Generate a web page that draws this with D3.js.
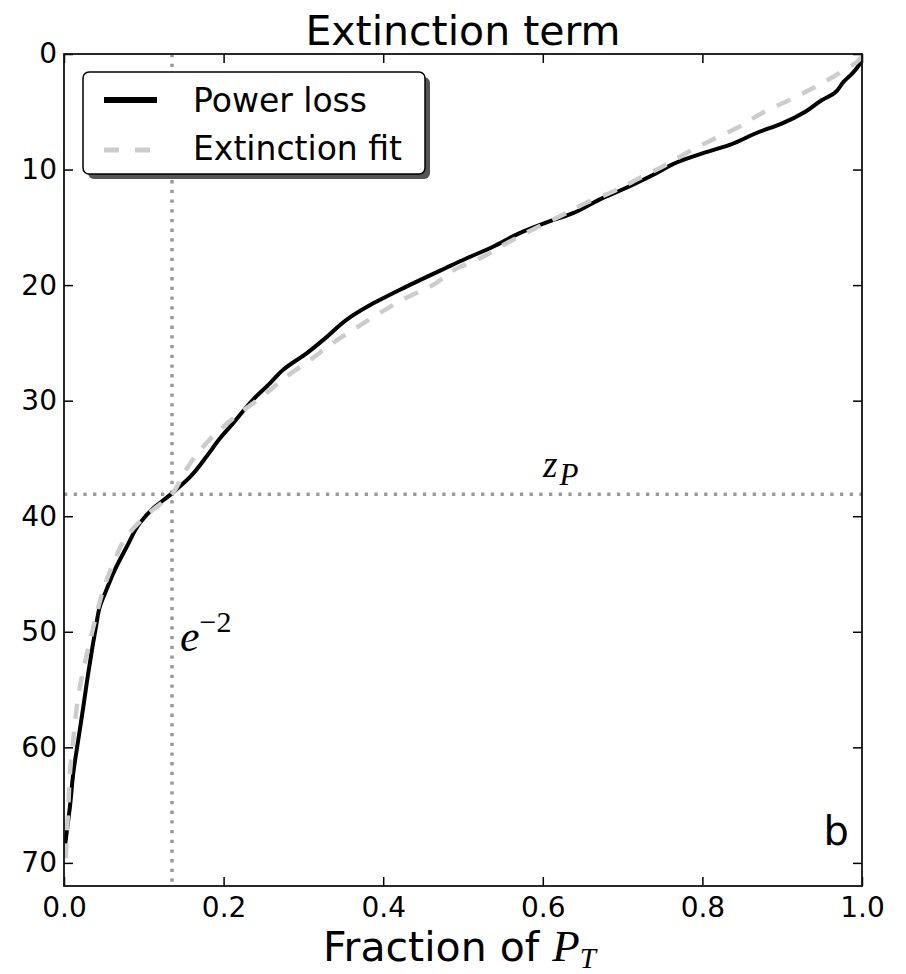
<!DOCTYPE html>
<html>
<head>
<meta charset="utf-8">
<script src="https://cdn.jsdelivr.net/npm/d3@7/dist/d3.min.js"></script>
<style>
  body { margin: 0; background: #fff; }
  svg { display: block; }
</style>
</head>
<body>
<svg id="chart"></svg>
<script>
const width = 906;
const height = 974;
const margin = { top: 54, right: 44, bottom: 88, left: 64 };

// measured power loss profile: fraction of P_T vs depth
const powerFrac = [1.0, 0.988, 0.977, 0.965, 0.950, 0.929, 0.900, 0.867, 0.834, 0.800,
    0.771, 0.738, 0.704, 0.671, 0.637, 0.604, 0.571, 0.537, 0.504, 0.479,
    0.421, 0.387, 0.354, 0.329, 0.304, 0.275, 0.258, 0.237, 0.212,
    0.195, 0.180, 0.158, 0.133, 0.112, 0.095, 0.079, 0.062, 0.053, 0.045,
    0.040, 0.0345, 0.029, 0.0242, 0.018, 0.0117, 0.0075, 0.0033, 0.001];
const powerDepth = [0.6, 1.67, 2.4, 3.4, 3.98, 4.99, 6.0, 6.86, 7.87, 8.6,
    9.3, 10.47, 11.6, 12.6, 13.8, 14.6, 15.5, 16.7, 17.7, 18.5,
    20.4, 21.6, 23.0, 24.5, 25.9, 27.3, 28.5, 29.9, 31.95,
    33.3, 34.7, 36.6, 38.15, 39.3, 40.6, 42.6, 44.9, 46.4, 47.8,
    49.6, 51.8, 54.2, 56.5, 59.3, 62.2, 65.1, 67.4, 68.7];

// extinction fit
const fitFrac = [1.0, 0.994, 0.975, 0.942, 0.909, 0.875, 0.846, 0.813, 0.783, 0.754,
    0.721, 0.688, 0.654, 0.621, 0.587, 0.554, 0.521, 0.491, 0.462, 0.429,
    0.396, 0.366, 0.337, 0.308, 0.279, 0.249, 0.220, 0.191, 0.168, 0.150,
    0.135, 0.107, 0.0785, 0.0617, 0.049, 0.041, 0.035, 0.028, 0.022, 0.016,
    0.0117, 0.0075, 0.0054, 0.0033, 0.002];
const fitDepth = [0.2, 0.66, 1.5, 2.83, 3.98, 5.1, 6.3, 7.4, 8.45, 9.6,
    10.75, 11.9, 12.9, 14.07, 15.2, 16.4, 17.7, 18.6, 20.0, 21.1,
    22.4, 23.7, 25.0, 26.5, 27.9, 29.6, 31.1, 32.8, 34.5, 36.3,
    38.1, 39.7, 41.75, 44.1, 46.4, 48.4, 50.1, 52.1, 54.0, 56.5,
    59.3, 62.2, 65.1, 68.0, 70.0];

const xTicks = [0, 0.2, 0.4, 0.6, 0.8, 1.0];
const yTicks = [0, 10, 20, 30, 40, 50, 60, 70];
const eFold = Math.exp(-2);   // vertical marker
const zP = 38.1;              // horizontal marker

const svg = d3.select('#chart')
    .attr('width', width)
    .attr('height', height);

const x = d3.scaleLinear().domain([0, 1]).range([margin.left, width - margin.right]);
const y = d3.scaleLinear().domain([0, 72]).range([margin.top, height - margin.bottom]);

svg.append('defs').append('clipPath').attr('id', 'plot-clip')
    .append('rect')
    .attr('x', x(0)).attr('y', y(0))
    .attr('width', x(1) - x(0)).attr('height', y(72) - y(0));

const plot = svg.append('g').attr('clip-path', 'url(#plot-clip)');

// dotted marker lines
plot.append('line')
    .attr('x1', x(eFold)).attr('x2', x(eFold))
    .attr('y1', y(0)).attr('y2', y(72))
    .attr('stroke', '#999').attr('stroke-width', 3.5)
    .attr('stroke-dasharray', '3.3,6.4');
plot.append('line')
    .attr('x1', x(0)).attr('x2', x(1))
    .attr('y1', y(zP)).attr('y2', y(zP))
    .attr('stroke', '#999').attr('stroke-width', 3.5)
    .attr('stroke-dasharray', '3.3,6.4');

const line = d3.line()
    .x(d => x(d[0]))
    .y(d => y(d[1]))
    .curve(d3.curveMonotoneY);

plot.append('path')
    .datum(d3.zip(powerFrac, powerDepth))
    .attr('d', line)
    .attr('fill', 'none')
    .attr('stroke', '#000')
    .attr('stroke-width', 4);

plot.append('path')
    .datum(d3.zip(fitFrac, fitDepth))
    .attr('d', line)
    .attr('fill', 'none')
    .attr('stroke', '#ccc')
    .attr('stroke-width', 4.5)
    .attr('stroke-dasharray', '15,13');

// axes: inward ticks on all sides
const tickLen = 9;
const axisFont = '"DejaVu Sans", sans-serif';

svg.append('g')
    .attr('transform', `translate(0,${y(72)})`)
    .call(d3.axisBottom(x).tickValues(xTicks).tickFormat(d3.format('.1f')).tickSize(-tickLen).tickPadding(11))
    .call(g => g.select('.domain').remove())
    .call(g => g.selectAll('line').attr('stroke-width', 1.5))
    .call(g => g.selectAll('text').attr('font-size', 28).attr('font-family', axisFont).attr('fill', '#000'));

svg.append('g')
    .attr('transform', `translate(0,${y(0)})`)
    .call(d3.axisTop(x).tickValues(xTicks).tickFormat('').tickSize(-tickLen))
    .call(g => g.select('.domain').remove())
    .call(g => g.selectAll('line').attr('stroke-width', 1.5));

svg.append('g')
    .attr('transform', `translate(${x(0)},0)`)
    .call(d3.axisLeft(y).tickValues(yTicks).tickFormat(d3.format('d')).tickSize(-tickLen).tickPadding(7))
    .call(g => g.select('.domain').remove())
    .call(g => g.selectAll('line').attr('stroke-width', 1.5))
    .call(g => g.selectAll('text').attr('font-size', 28).attr('font-family', axisFont).attr('fill', '#000'));

svg.append('g')
    .attr('transform', `translate(${x(1)},0)`)
    .call(d3.axisRight(y).tickValues(yTicks).tickFormat('').tickSize(-tickLen))
    .call(g => g.select('.domain').remove())
    .call(g => g.selectAll('line').attr('stroke-width', 1.5));

// frame
svg.append('rect')
    .attr('x', x(0)).attr('y', y(0))
    .attr('width', x(1) - x(0)).attr('height', y(72) - y(0))
    .attr('fill', 'none')
    .attr('stroke', '#111')
    .attr('stroke-width', 1.8);

// title
svg.append('text')
    .attr('x', (x(0) + x(1)) / 2)
    .attr('y', 45)
    .attr('text-anchor', 'middle')
    .attr('font-family', axisFont)
    .attr('font-size', 41)
    .text('Extinction term');

// x label
const xl = svg.append('text')
    .attr('x', 323)
    .attr('y', 961)
    .attr('font-family', axisFont)
    .attr('font-size', 41);
xl.append('tspan').text('Fraction of ');
xl.append('tspan')
    .attr('font-family', '"Liberation Serif", serif')
    .attr('font-style', 'italic')
    .attr('font-size', 45)
    .text('P');
xl.append('tspan')
    .attr('font-family', '"Liberation Serif", serif')
    .attr('font-style', 'italic')
    .attr('font-size', 29)
    .attr('dy', 7)
    .text('T');

// e^-2 annotation
const eLab = svg.append('text')
    .attr('x', 180)
    .attr('y', 651)
    .attr('font-family', '"Liberation Serif", serif')
    .attr('font-size', 44);
eLab.append('tspan').attr('font-style', 'italic').text('e');
eLab.append('tspan').attr('font-size', 30).attr('dy', -19).text('\u22122');

// z_P annotation
const zLab = svg.append('text')
    .attr('x', 543)
    .attr('y', 477)
    .attr('font-family', '"Liberation Serif", serif')
    .attr('font-style', 'italic')
    .attr('font-size', 37);
zLab.append('tspan').text('z');
zLab.append('tspan').attr('font-size', 31).attr('dy', 8).attr('dx', 2).text('P');

// panel letter
svg.append('text')
    .attr('x', 849)
    .attr('y', 845)
    .attr('text-anchor', 'end')
    .attr('font-family', axisFont)
    .attr('font-size', 40)
    .text('b');

// legend
const legend = svg.append('g');
legend.append('rect')
    .attr('x', 88).attr('y', 77)
    .attr('width', 342).attr('height', 102)
    .attr('rx', 6)
    .attr('fill', '#555');
legend.append('rect')
    .attr('x', 83).attr('y', 72)
    .attr('width', 342).attr('height', 102)
    .attr('rx', 6)
    .attr('fill', '#fff')
    .attr('stroke', '#000')
    .attr('stroke-width', 1.5);
legend.append('line')
    .attr('x1', 104).attr('x2', 157)
    .attr('y1', 100).attr('y2', 100)
    .attr('stroke', '#000').attr('stroke-width', 6);
legend.append('line')
    .attr('x1', 104).attr('x2', 151)
    .attr('y1', 150).attr('y2', 150)
    .attr('stroke', '#ccc').attr('stroke-width', 5)
    .attr('stroke-dasharray', '15,16');
legend.append('text')
    .attr('x', 193).attr('y', 112)
    .attr('font-family', axisFont).attr('font-size', 33)
    .text('Power loss');
legend.append('text')
    .attr('x', 193).attr('y', 160)
    .attr('font-family', axisFont).attr('font-size', 33)
    .text('Extinction fit');
</script>
</body>
</html>
